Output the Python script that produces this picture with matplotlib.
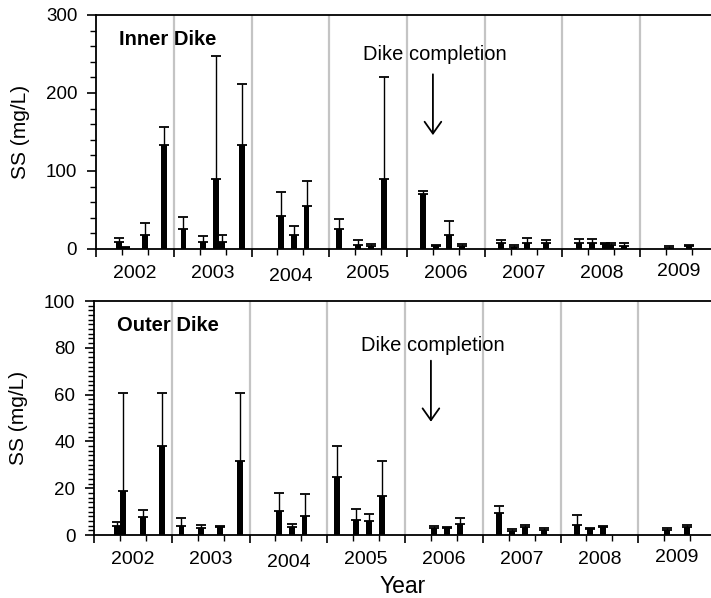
import matplotlib
matplotlib.use("Agg")
import matplotlib.pyplot as plt
import numpy as np
from matplotlib.ticker import MultipleLocator

plt.rcParams['font.family'] = ['Liberation Sans', 'DejaVu Sans']

# sampling months counted from Jan 2002 (0 = Jan 2002)
years = [2002, 2003, 2004, 2005, 2006, 2007, 2008, 2009]

inner_month = [3, 4, 7, 10, 13, 16, 18, 19, 22, 28, 30, 32, 37, 40, 42, 44,
               50, 52, 54, 56, 62, 64, 66, 69, 74, 76, 78, 79, 81, 88, 91]
inner_ss = [9, 1, 18, 133, 25, 9, 90, 9, 133, 42, 18, 55, 25, 5.5, 4, 90,
            70, 3.5, 18, 4, 7.5, 2.5, 8, 7.5, 7.5, 8, 6, 5.5, 4, 1.5, 3.3]
inner_sd = [5, 1, 15, 24, 16, 8, 157, 9, 79, 31, 12, 32, 13, 6, 2, 130,
            4, 2, 18, 2.5, 4, 3, 6.5, 4, 5.5, 5, 1.5, 2.5, 3.5, 2.3, 1.7]

outer_month = [3, 4, 7, 10, 13, 16, 19, 22, 28, 30, 32, 37, 40, 42, 44,
               52, 54, 56, 62, 64, 66, 69, 74, 76, 78, 88, 91]
outer_ss = [3.8, 19, 7.8, 38, 3.8, 3, 3.3, 31.5, 10.4, 3.3, 8.3, 25, 6.4, 6, 16.5,
            3, 2.8, 4.6, 9.5, 1.9, 3.3, 2, 4.3, 2.4, 3.3, 2.1, 3.3]
outer_sd = [1.6, 41.8, 2.7, 22.8, 3.5, 1.3, 0.7, 29, 7.4, 1.4, 9.2, 13, 4.9, 3, 15.1,
            1, 0.6, 2.5, 3, 0.6, 1, 1.1, 4.1, 0.4, 0.7, 0.7, 1]

completion_month = 52


def draw_panel(ax, months, ss, sd, ymax, ymajor, yminor, title, note_y, arrow_top, arrow_tip):
    x = np.array(months) + 0.5
    for b in range(12, 96, 12):
        ax.axvline(b, color='#c4c4c4', lw=1.6, zorder=0)
    ax.bar(x, ss, width=0.9, color='black', zorder=2)
    ax.errorbar(x, ss, yerr=[np.zeros(len(sd)), sd], fmt='none', ecolor='black',
                elinewidth=1.0, capsize=3.6, capthick=1.3, zorder=3)
    ax.set_xlim(0, 96)
    ax.set_ylim(0, ymax)
    ax.xaxis.set_major_locator(MultipleLocator(12))
    ax.xaxis.set_minor_locator(MultipleLocator(4))
    ax.yaxis.set_major_locator(MultipleLocator(ymajor))
    ax.yaxis.set_minor_locator(MultipleLocator(yminor))
    ax.set_xticklabels([])
    ax.tick_params(axis='x', which='major', direction='out', length=5.5, width=1.2)
    ax.tick_params(axis='x', which='minor', direction='out', length=4, width=1.0)
    ax.tick_params(axis='y', which='major', direction='out', length=6.5, width=1.2,
                   labelsize=13.5, pad=7)
    ax.tick_params(axis='y', which='minor', direction='out', length=4.3, width=1.0)
    for s in ['left', 'bottom', 'top']:
        ax.spines[s].set_linewidth(1.3)
    ax.spines['right'].set_visible(False)

    # year names under each block, a few sit a bit off the line
    shift = [0, 0, 2.5, 0, 0, 0, 0, -2.5]
    for i, yr in enumerate(years):
        ax.annotate(str(yr), xy=(i * 12 + 6, 0), xycoords=('data', 'axes fraction'),
                    xytext=(0, -18 - shift[i] * 0.72), textcoords='offset points',
                    ha='center', va='center', fontsize=14)

    ax.set_ylabel('SS (mg/L)', fontsize=15)
    ax.yaxis.label.set_va('center')
    ax.yaxis.set_label_coords(-0.122, 0.5)

    ax.text(0.037, 0.896, title, transform=ax.transAxes, fontsize=14.5,
            fontweight='bold', ha='left', va='center')
    ax.text(completion_month + 0.3, note_y, 'Dike completion', fontsize=14.5,
            ha='center', va='center')
    ax.annotate('', xy=(completion_month, arrow_tip), xytext=(completion_month, arrow_top),
                arrowprops=dict(arrowstyle='->,head_length=0.85,head_width=0.6',
                                lw=1.3, color='black', shrinkA=0, shrinkB=0))


fig = plt.figure(figsize=(7.11, 5.98), dpi=100)
ax1 = fig.add_axes([96 / 711, 349 / 598, 622 / 711, 234 / 598])
ax2 = fig.add_axes([94 / 711, 63 / 598, 622 / 711, 234 / 598])

draw_panel(ax1, inner_month, inner_ss, inner_sd, 300, 100, 20, 'Inner Dike', 249, 224, 146)
draw_panel(ax2, outer_month, outer_ss, outer_sd, 100, 20, 2, 'Outer Dike', 81, 74.5, 48.4)

ax2.set_xlabel('Year', fontsize=16.5)
ax2.xaxis.label.set_va('center')
ax2.xaxis.set_label_coords(0.497, -0.222)

plt.savefig('out.png', dpi=100)
